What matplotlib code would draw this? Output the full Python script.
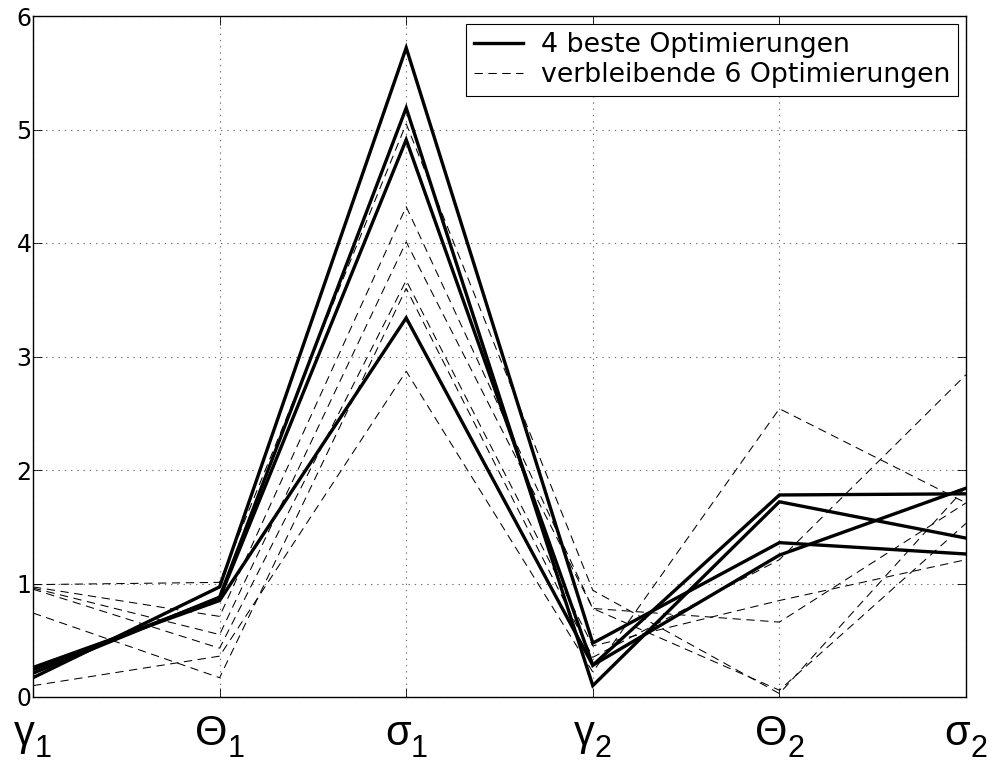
import matplotlib
matplotlib.use("Agg")
import matplotlib.pyplot as plt

# Parameter names along the x axis: symbol and index
symbols = ["\u03b3", "\u0398", "\u03c3", "\u03b3", "\u0398", "\u03c3"]
indices = ["1", "1", "1", "2", "2", "2"]

# Normalised parameter values of the four best optimisation runs
best_1 = [0.17, 0.97, 5.72, 0.475, 1.36, 1.26]
best_2 = [0.21, 0.88, 5.19, 0.10, 1.72, 1.40]
best_3 = [0.24, 0.87, 4.91, 0.28, 1.25, 1.84]
best_4 = [0.26, 0.85, 3.34, 0.28, 1.78, 1.79]

# Normalised parameter values of the remaining six runs
rest_1 = [0.99, 1.01, 5.05, 0.94, 0.03, 1.85]
rest_2 = [0.97, 0.71, 4.32, 0.78, 0.66, 1.71]
rest_3 = [0.96, 0.55, 4.01, 0.78, 0.06, 1.53]
rest_4 = [0.95, 0.43, 3.67, 0.45, 0.85, 1.21]
rest_5 = [0.74, 0.17, 3.60, 0.35, 1.21, 2.84]
rest_6 = [0.10, 0.36, 2.87, 0.22, 2.54, 1.71]

best_runs = [best_1, best_2, best_3, best_4]
rest_runs = [rest_1, rest_2, rest_3, rest_4, rest_5, rest_6]

label_best = "4 beste Optimierungen"
label_rest = "verbleibende 6 Optimierungen"
yticks = [0, 1, 2, 3, 4, 5, 6]

plt.rcParams["font.family"] = ["DejaVu Sans"]
plt.rcParams["lines.scale_dashes"] = False

fig = plt.figure(figsize=(9.90, 7.63), dpi=100)
ax = fig.add_axes([33 / 990, 1 - 697 / 763, (966 - 33) / 990, (697 - 16) / 763])

x = list(range(len(symbols)))

h_rest = None
for run in rest_runs:
    (h_rest,) = ax.plot(x, run, color="black", linewidth=0.75,
                        dashes=(6, 4), zorder=2)
h_best = None
for run in best_runs:
    (h_best,) = ax.plot(x, run, color="black", linewidth=2.4,
                        solid_joinstyle="miter", zorder=3)

ax.set_xlim(0, len(symbols) - 1)
ax.set_ylim(0, 6)
ax.set_xticks(x)
ax.set_xticklabels([])
ax.set_yticks(yticks)
ax.set_yticklabels([str(t) for t in yticks], fontsize=17)

ax.tick_params(axis="both", direction="in", length=6.5, width=0.6,
               top=True, right=True, color="black")
ax.tick_params(axis="y", pad=1)

ax.grid(True, color="0.45", linestyle=(0, (1, 3.5)), linewidth=0.8)
ax.set_axisbelow(True)
for s in ax.spines.values():
    s.set_linewidth(1.0)
    s.set_color("black")

# Tick labels built from a large symbol and a lowered index,
# centred as a whole below each tick
renderer = fig.canvas.get_renderer()
base_font = dict(family="Liberation Sans", size=30)
sub_font = dict(family="Liberation Sans", size=22)
for xi, sym, idx in zip(x, symbols, indices):
    t_sym = ax.annotate(sym, xy=(xi, 0), xycoords=("data", "axes fraction"),
                        xytext=(0, -48), textcoords="offset pixels",
                        ha="left", va="baseline", annotation_clip=False,
                        **base_font)
    t_sub = ax.annotate(idx, xy=(xi, 0), xycoords=("data", "axes fraction"),
                        xytext=(0, -60), textcoords="offset pixels",
                        ha="left", va="baseline", annotation_clip=False,
                        **sub_font)
    w_sym = t_sym.get_window_extent(renderer).width
    w_sub = t_sub.get_window_extent(renderer).width
    start = -(w_sym + w_sub) / 2.0
    t_sym.set_position((start, -48))
    t_sub.set_position((start + w_sym, -60))

leg = ax.legend([h_best, h_rest], [label_best, label_rest],
                loc="upper right", bbox_to_anchor=(0.9914, 0.988),
                borderaxespad=0, fontsize=19.3, fancybox=False,
                framealpha=1, edgecolor="black", handlelength=1.8,
                handletextpad=0.67, borderpad=0.3, labelspacing=0.15)
leg.get_frame().set_linewidth(0.8)

fig.savefig("out.png", dpi=100, facecolor="white")
